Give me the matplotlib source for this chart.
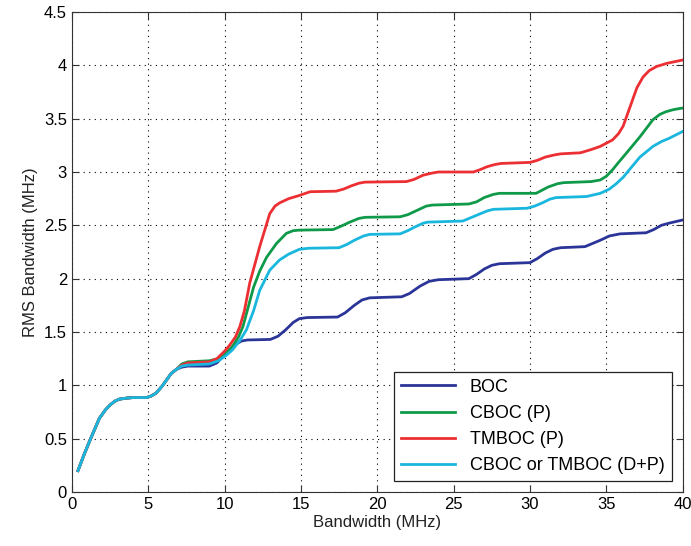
import numpy as np
import matplotlib.pyplot as plt

plt.rcParams['font.family'] = ['Liberation Sans', 'DejaVu Sans']

# shared start of every curve (0.4 - 7 MHz)
x_common = [0.4, 0.8, 1.2, 1.8, 2.2, 2.5, 2.8, 3.1, 3.6, 4.0, 4.9, 5.2, 5.5,
            5.9, 6.2, 6.5, 6.85]
y_common = [0.20, 0.35, 0.49, 0.69, 0.77, 0.815, 0.85, 0.87, 0.88, 0.885,
            0.885, 0.90, 0.925, 0.99, 1.05, 1.11, 1.15]

boc_x = [7.2, 7.6, 9.0, 9.5, 10.0, 10.5, 10.8, 11.1, 11.5, 13.0, 13.5, 14.0,
         14.5, 14.9, 15.4, 17.4, 17.9, 18.5, 19.0, 19.5, 21.6, 22.1, 22.8, 23.4,
         24.0, 26.0, 26.5, 27.0, 27.5, 28.0, 30.0, 30.5, 31.0, 31.5, 32.0, 33.6,
         34.1, 34.6, 35.2, 35.9, 37.6, 38.1, 38.6, 39.1, 40.0]
boc_y = [1.17, 1.18, 1.18, 1.21, 1.29, 1.36, 1.39, 1.415, 1.425, 1.43, 1.46, 1.52,
         1.59, 1.625, 1.635, 1.64, 1.68, 1.75, 1.80, 1.82, 1.83, 1.86, 1.93, 1.975,
         1.99, 2.0, 2.04, 2.09, 2.125, 2.14, 2.15, 2.19, 2.24, 2.275, 2.29, 2.30,
         2.33, 2.36, 2.40, 2.42, 2.43, 2.46, 2.50, 2.52, 2.55]

cboc_x = [7.2, 7.6, 9.0, 9.6, 10.1, 10.5, 10.9, 11.2, 11.9, 12.3, 12.75, 13.4,
          14.05, 14.5, 14.9, 17.1, 17.6, 18.2, 18.8, 19.2, 21.5, 22.0, 22.6, 23.2,
          23.6, 26.0, 26.5, 27.0, 27.6, 28.0, 30.4, 30.8, 31.2, 31.8, 32.2, 34.0,
          34.6, 35.0, 35.4, 35.8, 36.3, 37.2, 38.05, 38.5, 38.9, 39.4, 40.0]
cboc_y = [1.20, 1.22, 1.23, 1.25, 1.30, 1.36, 1.45, 1.55, 1.92, 2.07, 2.2, 2.33,
          2.425, 2.45, 2.455, 2.46, 2.49, 2.53, 2.565, 2.575, 2.58, 2.60, 2.64,
          2.68, 2.69, 2.70, 2.72, 2.76, 2.79, 2.80, 2.80, 2.83, 2.86, 2.89, 2.90,
          2.91, 2.925, 2.96, 3.02, 3.09, 3.175, 3.33, 3.49, 3.54, 3.565, 3.585,
          3.60]

tmboc_x = [7.2, 7.6, 9.0, 9.5, 10.0, 10.3, 10.7, 11.0, 11.3, 11.65, 12.3, 12.96,
           13.3, 13.6, 14.2, 14.9, 15.6, 17.3, 17.8, 18.3, 18.8, 19.2, 21.9, 22.4,
           23.0, 23.6, 24.0, 26.3, 26.7, 27.2, 27.7, 28.1, 30.0, 30.5, 31.0, 31.6,
           32.0, 33.3, 34.0, 34.6, 35.4, 35.8, 36.1, 36.4, 36.7, 37.0, 37.4, 37.8,
           38.3, 39.0, 40.0]
tmboc_y = [1.19, 1.21, 1.22, 1.25, 1.32, 1.37, 1.45, 1.55, 1.70, 1.96, 2.30, 2.61,
           2.68, 2.71, 2.75, 2.78, 2.815, 2.82, 2.84, 2.87, 2.895, 2.905, 2.91,
           2.93, 2.97, 2.99, 3.0, 3.0, 3.02, 3.05, 3.07, 3.08, 3.09, 3.11, 3.14,
           3.16, 3.17, 3.18, 3.21, 3.24, 3.30, 3.36, 3.43, 3.55, 3.67, 3.79, 3.89,
           3.95, 3.99, 4.02, 4.05]

dp_x = [7.2, 7.6, 9.0, 9.6, 10.1, 10.5, 11.0, 11.43, 11.9, 12.3, 12.96, 13.6,
        14.2, 14.9, 15.5, 17.5, 18.0, 18.5, 19.1, 19.5, 21.5, 22.0, 22.4, 23.0,
        23.3, 25.6, 26.1, 26.6, 27.2, 27.6, 29.8, 30.3, 30.8, 31.3, 31.7, 33.7,
        34.6, 35.2, 35.65, 36.1, 36.5, 37.2, 38.05, 38.6, 39.1, 40.0]
dp_y = [1.18, 1.19, 1.20, 1.23, 1.28, 1.33, 1.42, 1.52, 1.70, 1.89, 2.08, 2.175,
        2.23, 2.275, 2.285, 2.29, 2.32, 2.36, 2.40, 2.415, 2.42, 2.45, 2.48,
        2.52, 2.53, 2.54, 2.57, 2.60, 2.635, 2.65, 2.66, 2.68, 2.71, 2.745, 2.76,
        2.77, 2.80, 2.84, 2.89, 2.95, 3.02, 3.14, 3.24, 3.285, 3.315, 3.38]

labels = ['BOC', 'CBOC (P)', 'TMBOC (P)', 'CBOC or TMBOC (D+P)']
colors = ['#2b3598', '#0f9a4a', '#ec2f33', '#19b6de']

fig = plt.figure(figsize=(6.91, 5.46), dpi=100)
ax = fig.add_axes([0.104, 0.099, 0.884, 0.879])

series = [(boc_x, boc_y), (cboc_x, cboc_y), (tmboc_x, tmboc_y), (dp_x, dp_y)]
for (sx, sy), lab, col in zip(series, labels, colors):
    xs = np.array(x_common + sx)
    ys = np.array(y_common + sy)
    ax.plot(xs, ys, color=col, lw=2, label=lab)

ax.set_xlim(0, 40)
ax.set_ylim(0, 4.5)
ax.set_xticks(np.arange(0, 41, 5))
ax.set_yticks(np.arange(0, 4.51, 0.5))
ax.set_yticklabels(['0', '0.5', '1', '1.5', '2', '2.5', '3', '3.5', '4', '4.5'])
ax.grid(True, color='black', linestyle=(0, (1, 4)), linewidth=0.8)
ax.tick_params(direction='in', length=5, labelsize=12, top=True, right=True,
               color='#333333')
for s in ax.spines.values():
    s.set_color('#333333')

ax.set_xlabel('Bandwidth (MHz)', fontsize=12, labelpad=2, color='#222222')
ax.set_ylabel('RMS Bandwidth (MHz)', fontsize=12, labelpad=4, color='#222222')

leg = ax.legend(loc='lower right', fontsize=13, fancybox=False, framealpha=1,
                edgecolor='#222222', handlelength=3.0, borderaxespad=0.6,
                labelspacing=0.5)
leg.get_frame().set_linewidth(0.9)

fig.savefig('out.png')
